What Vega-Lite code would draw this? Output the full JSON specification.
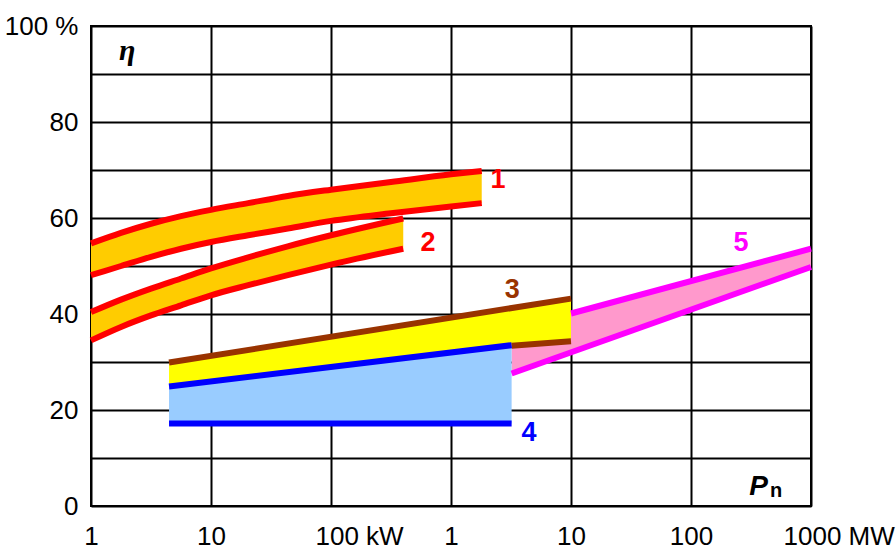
{
  "$schema": "https://vega.github.io/schema/vega-lite/v6.json",
  "autosize": {"type": "none"},
  "padding": {"left": 91, "top": 26, "right": 85, "bottom": 39},
  "width": 720,
  "height": 480,
  "background": "white",
  "config": {
    "view": {"stroke": "black", "strokeWidth": 2},
    "font": "Liberation Sans"
  },
  "datasets": {
    "areas": [
      {"band": "5", "x": 3200, "lo": 27.6, "hi": 36.8},
      {"band": "5", "x": 1000000, "lo": 49.8, "hi": 53.6},
      {"band": "3", "x": 4.47, "lo": 24.9, "hi": 29.9},
      {"band": "3", "x": 3200, "lo": 33.4, "hi": 41.2},
      {"band": "3", "x": 10000, "lo": 34.3, "hi": 43.2},
      {"band": "4", "x": 4.47, "lo": 17.2, "hi": 24.9},
      {"band": "4", "x": 3200, "lo": 17.2, "hi": 33.5},
      {"band": "1", "x": 1, "lo": 48.1, "hi": 54.7},
      {"band": "1", "x": 1.778, "lo": 50.0, "hi": 56.9},
      {"band": "1", "x": 3.162, "lo": 51.9, "hi": 58.8},
      {"band": "1", "x": 5.623, "lo": 53.6, "hi": 60.4},
      {"band": "1", "x": 10, "lo": 55.0, "hi": 61.7},
      {"band": "1", "x": 20.42, "lo": 56.4, "hi": 63.1},
      {"band": "1", "x": 43.65, "lo": 57.8, "hi": 64.6},
      {"band": "1", "x": 100, "lo": 59.4, "hi": 65.9},
      {"band": "1", "x": 316, "lo": 61.0, "hi": 67.5},
      {"band": "1", "x": 1000, "lo": 62.4, "hi": 69.1},
      {"band": "1", "x": 1803, "lo": 63.1, "hi": 69.8},
      {"band": "2", "x": 1, "lo": 34.5, "hi": 40.4},
      {"band": "2", "x": 1.778, "lo": 37.3, "hi": 43.0},
      {"band": "2", "x": 3.162, "lo": 39.7, "hi": 45.3},
      {"band": "2", "x": 5.623, "lo": 41.8, "hi": 47.4},
      {"band": "2", "x": 10, "lo": 43.9, "hi": 49.5},
      {"band": "2", "x": 20.42, "lo": 46.0, "hi": 51.8},
      {"band": "2", "x": 43.65, "lo": 48.1, "hi": 54.1},
      {"band": "2", "x": 100, "lo": 50.3, "hi": 56.4},
      {"band": "2", "x": 400, "lo": 53.6, "hi": 59.9}
    ],
    "lines": [
      {"band": "3", "line": "3u", "x": 4.47, "y": 29.9},
      {"band": "3", "line": "3u", "x": 10000, "y": 43.2},
      {"band": "3", "line": "3l", "x": 3200, "y": 33.4},
      {"band": "3", "line": "3l", "x": 10000, "y": 34.3},
      {"band": "4", "line": "4u", "x": 4.47, "y": 24.9},
      {"band": "4", "line": "4u", "x": 3200, "y": 33.5},
      {"band": "4", "line": "4l", "x": 4.47, "y": 17.2},
      {"band": "4", "line": "4l", "x": 3200, "y": 17.2},
      {"band": "5", "line": "5u", "x": 10000, "y": 40.1},
      {"band": "5", "line": "5u", "x": 1000000, "y": 53.6},
      {"band": "5", "line": "5l", "x": 3200, "y": 27.6},
      {"band": "5", "line": "5l", "x": 1000000, "y": 49.8}
    ],
    "labels": [
      {"band": "1", "x": 2460, "y": 67.9, "text": "1"},
      {"band": "2", "x": 643, "y": 54.7, "text": "2"},
      {"band": "3", "x": 3240, "y": 45.1, "text": "3"},
      {"band": "4", "x": 4467, "y": 15.3, "text": "4"},
      {"band": "5", "x": 261000, "y": 54.7, "text": "5"}
    ]
  },
  "encoding": {
    "x": {
      "field": "x", "type": "quantitative",
      "scale": {"type": "log", "domain": [1, 1000000], "nice": false},
      "axis": {
        "title": null,
        "values": [1, 10, 100, 1000, 10000, 100000, 1000000],
        "labelExpr": "datum.value == 1 ? '1' : datum.value == 10 ? '10' : datum.value == 100 ? '100 kW' : datum.value == 1000 ? '1' : datum.value == 10000 ? '10' : datum.value == 100000 ? '100' : '1000 MW'",
        "labelAlign": {"condition": {"test": "datum.value == 100 || datum.value == 1000000", "value": "left"}, "value": "center"},
        "labelOffset": {"condition": [{"test": "datum.value == 100", "value": -16}, {"test": "datum.value == 1000000", "value": -28}], "value": 0},
        "domain": false, "ticks": false,
        "grid": true, "gridColor": "black", "gridWidth": 2, "gridOpacity": 1,
        "labelFontSize": 26, "labelColor": "black", "labelPadding": 17,
        "labelFlush": false, "labelOverlap": false, "labelFont": "Liberation Sans"
      }
    },
    "y": {
      "field": "y", "type": "quantitative",
      "scale": {"domain": [0, 100], "nice": false},
      "axis": {
        "title": null,
        "values": [0, 10, 20, 30, 40, 50, 60, 70, 80, 90, 100],
        "labelExpr": "datum.value == 100 ? '100 %' : (datum.value % 20 == 0 ? datum.label : '')",
        "domain": false, "ticks": false,
        "grid": true, "gridColor": "black", "gridWidth": 2, "gridOpacity": 1,
        "labelFontSize": 26, "labelColor": "black", "labelPadding": 13,
        "labelFlush": false, "labelOverlap": false, "labelFont": "Liberation Sans"
      }
    }
  },
  "layer": [
    {
      "data": {"name": "areas"},
      "transform": [{"filter": "datum.band == '5'"}],
      "mark": {"type": "area", "color": "#FF99CC"},
      "encoding": {"y": {"field": "lo", "type": "quantitative"}, "y2": {"field": "hi"}}
    },
    {
      "data": {"name": "areas"},
      "transform": [{"filter": "datum.band == '3'"}],
      "mark": {"type": "area", "color": "#FFFF00"},
      "encoding": {"y": {"field": "lo", "type": "quantitative"}, "y2": {"field": "hi"}}
    },
    {
      "data": {"name": "areas"},
      "transform": [{"filter": "datum.band == '4'"}],
      "mark": {"type": "area", "color": "#99CCFF"},
      "encoding": {"y": {"field": "lo", "type": "quantitative"}, "y2": {"field": "hi"}}
    },
    {
      "data": {"name": "areas"},
      "transform": [{"filter": "datum.band == '1'"}],
      "mark": {"type": "area", "color": "#FFCC00", "interpolate": "monotone"},
      "encoding": {"y": {"field": "lo", "type": "quantitative"}, "y2": {"field": "hi"}}
    },
    {
      "data": {"name": "areas"},
      "transform": [{"filter": "datum.band == '2'"}],
      "mark": {"type": "area", "color": "#FFCC00", "interpolate": "monotone"},
      "encoding": {"y": {"field": "lo", "type": "quantitative"}, "y2": {"field": "hi"}}
    },
    {
      "data": {"name": "areas"},
      "transform": [{"filter": "datum.band == '1' || datum.band == '2'"}],
      "mark": {"type": "line", "strokeWidth": 6, "strokeCap": "butt", "interpolate": "monotone"},
      "encoding": {
        "y": {"field": "hi", "type": "quantitative"},
        "color": {"field": "band", "type": "nominal", "legend": null},
        "detail": {"field": "band"}
      }
    },
    {
      "data": {"name": "areas"},
      "transform": [{"filter": "datum.band == '1' || datum.band == '2'"}],
      "mark": {"type": "line", "strokeWidth": 6, "strokeCap": "butt", "interpolate": "monotone"},
      "encoding": {
        "y": {"field": "lo", "type": "quantitative"},
        "color": {"field": "band", "type": "nominal", "legend": null},
        "detail": {"field": "band"}
      }
    },
    {
      "data": {"name": "lines"},
      "mark": {"type": "line", "strokeWidth": 6, "strokeCap": "butt"},
      "encoding": {
        "color": {
          "field": "band", "type": "nominal",
          "scale": {"domain": ["1", "2", "3", "4", "5"], "range": ["#FF0000", "#FF0000", "#993300", "#0000FF", "#FF00FF"]},
          "legend": null
        },
        "detail": {"field": "line"}
      }
    },
    {
      "data": {"name": "labels"},
      "mark": {"type": "text", "fontSize": 27, "fontWeight": "bold", "font": "Liberation Sans", "align": "center", "baseline": "middle"},
      "encoding": {
        "text": {"field": "text"},
        "color": {"field": "band", "type": "nominal", "legend": null}
      }
    },
    {
      "data": {"values": [{"x": 2.0, "y": 92.9, "text": "η"}]},
      "mark": {"type": "text", "fontSize": 30, "fontWeight": "bold", "fontStyle": "italic", "font": "Liberation Serif", "align": "center", "baseline": "alphabetic", "color": "black"},
      "encoding": {"text": {"field": "text"}}
    },
    {
      "data": {"values": [{"x": 438000, "y": 2.23, "text": "P"}]},
      "mark": {"type": "text", "fontSize": 28, "fontWeight": "bold", "fontStyle": "italic", "font": "Liberation Sans", "align": "right", "baseline": "alphabetic", "color": "black"},
      "encoding": {"text": {"field": "text"}}
    },
    {
      "data": {"values": [{"x": 455000, "y": 1.8, "text": "n"}]},
      "mark": {"type": "text", "fontSize": 20, "fontWeight": "bold", "font": "Liberation Sans", "align": "left", "baseline": "alphabetic", "color": "black"},
      "encoding": {"text": {"field": "text"}}
    }
  ]
}
